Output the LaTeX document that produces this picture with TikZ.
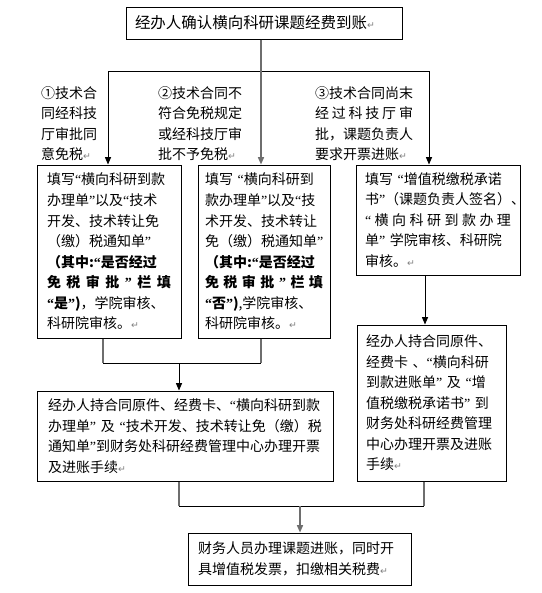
\documentclass[tikz,border=0pt]{standalone}
\usepackage{fontspec}
\setmainfont{Noto Sans CJK SC}
\newfontfamily\djv{DejaVu Sans}
\newfontfamily\lsf{Liberation Serif}
\usetikzlibrary{arrows.meta}
\newlength\px \setlength\px{0.75pt}
\newcommand\parmk{{\djv\fontsize{7}{7}\selectfont\textcolor{gray}{↵}}}
\newcommand\spr[2]{\makebox[#1]{#2}}
\newcommand\qo{{\lsf “}}
\newcommand\qc{{\lsf ”}}
\definecolor{lgry}{RGB}{110,110,110}
\tikzset{
  box/.style={draw, line width=0.75pt, inner ysep=0pt, align=left,
    font=\fontsize{10.5}{15.4}\selectfont},
  lab/.style={align=left, inner sep=0pt, font=\fontsize{10.5}{15.4}\selectfont},
  blk/.style={draw=black, line width=0.75pt},
  gry/.style={draw=lgry, line width=1.1pt},
  arr/.style={-{Triangle[length=5.5pt,width=4.5pt]}},
}
\begin{document}
\begin{tikzpicture}[x=0.75pt,y=-0.75pt]
\useasboundingbox[fill=white] (0,0) rectangle (542,593);

\node[box, text width=258\px, inner xsep=9\px, minimum height=32\px,
  font=\fontsize{11.6}{14}\selectfont] (top) at (264,23) {经办人确认横向科研课题经费到账\parmk};

\node[lab] (l1) at (69,123.5) {①技术合\\同经科技\\厅审批同\\意免税\parmk};
\node[lab] (l2) at (200,123.5) {②技术合同不\\符合免税规定\\或经科技厅审\\批不予免税\parmk};
\node[lab, text width=98\px] (l3) at (364,123.5) {③技术合同尚末\\\spr{98\px}{经\hfill 过\hfill 科\hfill 技\hfill 厅\hfill 审}\\批，课题负责人\\要求开票进账\parmk};

\node[box, text width=124\px, inner xsep=10\px, minimum height=173\px] (b1) at (109,251.5) {填写\qo{}横向科研到款\\
办理单\qc{}以及\qo{}技术\\
开发、技术转让免\\
（缴）税通知单\qc{}\\
\textbf{（其中:\qo{}是否经过}\\
\spr{124\px}{\bfseries 免\hfill 税\hfill 审\hfill 批\hfill \qc{}\hfill 栏\hfill 填}\\
\textbf{\qo{}是\qc{})}，学院审核、\\
科研院审核。\parmk};

\node[box, text width=118\px, inner xsep=7\px, minimum height=173\px] (b2) at (264,251.5) {填写 \qo{}横向科研到\\
款办理单\qc{}以及\qo{}技\\
术开发、技术转让\\
免（缴）税通知单\qc{}\\
\textbf{（其中:\qo{}是否经过}\\
\spr{118\px}{\bfseries 免\hfill 税\hfill 审\hfill 批\hfill \qc{}\hfill 栏\hfill 填}\\
\textbf{\qo{}否\qc{})},学院审核、\\
科研院审核。\parmk};

\node[box, text width=146\px, inner xsep=9\px, minimum height=110\px] (b3) at (438,220) {填写 \qo{}增值税缴税承诺\\
书\qc{}（课题负责人签名）、\\
\spr{146\px}{\qo{}\hfill 横\hfill 向\hfill 科\hfill 研\hfill 到\hfill 款\hfill 办\hfill 理}\\
单\qc{} 学院审核、科研院\\
审核。\parmk};

\node[box, text width=131\px, inner xsep=9\px, minimum height=156\px] (b4) at (431.5,403) {经办人持合同原件、\\
经费卡 、\qo{}横向科研\\
到款进账单\qc{} 及 \qo{}增\\
值税缴税承诺书\qc{} 到\\
财务处科研经费管理\\
中心办理开票及进账\\
手续\parmk};

\node[box, text width=274\px, inner xsep=11\px, minimum height=90\px] (b5) at (185,436) {经办人持合同原件、经费卡、\qo{}横向科研到款\\
办理单\qc{} 及 \qo{}技术开发、技术转让免（缴）税\\
通知单\qc{}到财务处科研经费管理中心办理开票\\
及进账手续\parmk};

\node[box, text width=203\px, inner xsep=10\px, minimum height=52\px] (b6) at (299.5,559) {财务人员办理课题进账，同时开\\
具增值税发票，扣缴相关税费\parmk};

% connectors from the top
\coordinate (tv) at (261,0);
\coordinate (hl) at (108,71);
\coordinate (hr) at (429,71);
\draw[blk] (hl) -- (hr);
\draw[blk,arr] (hl) -- (hl |- b1.north);
\draw[blk,arr] (hr) -- (hr |- b3.north);
\draw[gry,arr] (tv |- top.south) -- (tv |- b2.north);

% b1, b2 -> b5
\coordinate (m1) at (103,363);
\coordinate (m2) at (261,363);
\coordinate (m3) at (179,363);
\draw[gry] (m1 |- b1.south) -- (m1);
\draw[gry] (m2 |- b2.south) -- (m2);
\draw[blk] (m1) -- (m2);
\draw[blk,arr] (m3) -- (m3 |- b5.north);

% b3 -> b4
\coordinate (v3) at (425,0);
\draw[blk,arr] (v3 |- b3.south) -- (v3 |- b4.north);

% b5, b4 -> b6
\coordinate (n1) at (179,506);
\coordinate (n2) at (424,506);
\coordinate (n3) at (300,506);
\draw[gry] (n1 |- b5.south) -- (n1);
\draw[gry] (n2 |- b4.south) -- (n2);
\draw[blk] (n1) -- (n2);
\draw[gry,arr] (n3) -- (n3 |- b6.north);
\end{tikzpicture}
\end{document}
